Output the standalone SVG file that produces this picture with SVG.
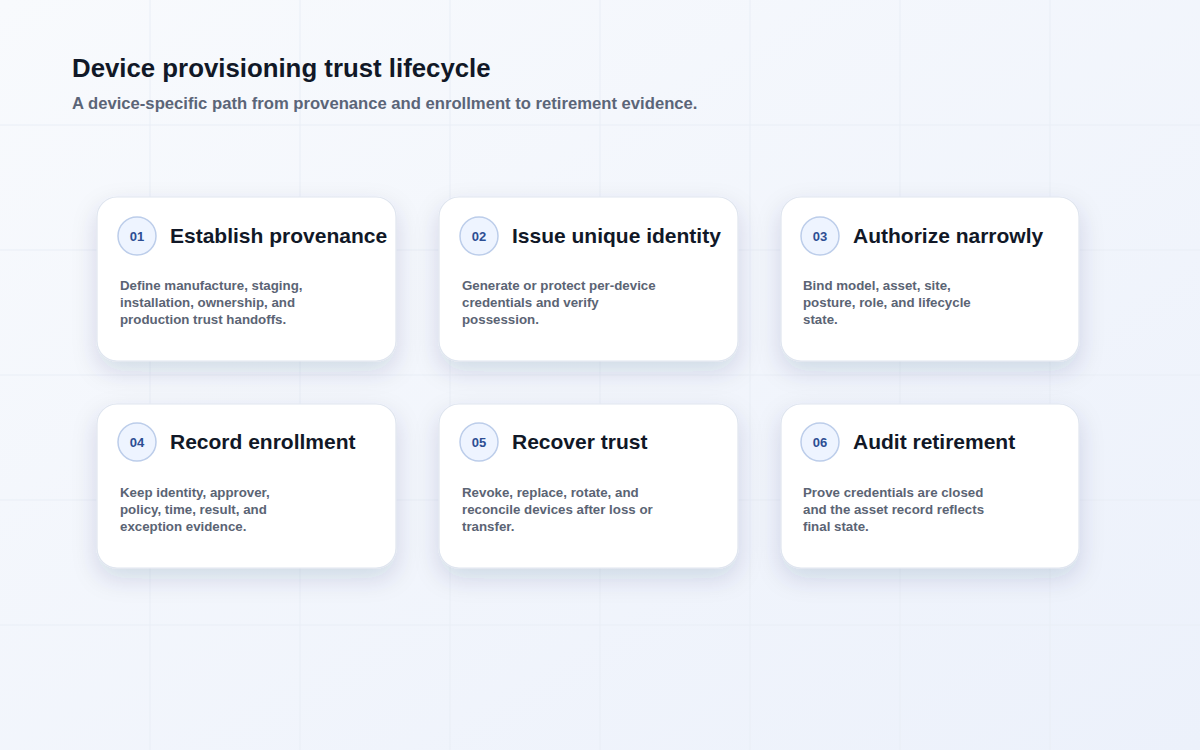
<svg xmlns="http://www.w3.org/2000/svg" width="1200" height="750" viewBox="0 0 1200 750">
  <defs>
    <linearGradient id="bg" x1="0" y1="0" x2="1" y2="1">
      <stop offset="0" stop-color="#f8fafd"/>
      <stop offset="1" stop-color="#ecf1fb"/>
    </linearGradient>
    <filter id="shadow" x="-25%" y="-25%" width="150%" height="170%">
      <feDropShadow dx="0" dy="10" stdDeviation="12" flood-color="#1f2d5c" flood-opacity="0.14"/>
    </filter>
    <style>
      .grid line { stroke: #e9eef6; stroke-width: 1; }
      .card { fill: #ffffff; stroke: #dfe5ef; stroke-width: 1.2; filter: url(#shadow); }
      .badge { fill: #eef4ff; stroke: #bccdea; stroke-width: 1.5; }
      .num { font-family: "Liberation Sans", Arial, sans-serif; font-weight: 700; font-size: 13px; fill: #2d4e93; text-anchor: middle; }
      .ttl { font-family: "Liberation Sans", Arial, sans-serif; font-weight: 700; font-size: 21px; fill: #111827; }
      .body { font-family: "Liberation Sans", Arial, sans-serif; font-weight: 700; font-size: 13.3px; fill: #5b6474; }
      .h1 { font-family: "Liberation Sans", Arial, sans-serif; font-weight: 700; font-size: 25.8px; fill: #111827; }
      .h2 { font-family: "Liberation Sans", Arial, sans-serif; font-weight: 700; font-size: 16.65px; fill: #5b6578; }
    </style>
  </defs>
  <rect width="1200" height="750" fill="url(#bg)"/>
  <g class="grid">
    <line x1="150" y1="0" x2="150" y2="750"/>
    <line x1="300" y1="0" x2="300" y2="750"/>
    <line x1="450" y1="0" x2="450" y2="750"/>
    <line x1="600" y1="0" x2="600" y2="750"/>
    <line x1="750" y1="0" x2="750" y2="750"/>
    <line x1="900" y1="0" x2="900" y2="750"/>
    <line x1="1050" y1="0" x2="1050" y2="750"/>
    <line x1="0" y1="125" x2="1200" y2="125"/>
    <line x1="0" y1="250" x2="1200" y2="250"/>
    <line x1="0" y1="375" x2="1200" y2="375"/>
    <line x1="0" y1="500" x2="1200" y2="500"/>
    <line x1="0" y1="625" x2="1200" y2="625"/>
  </g>
  <g id="header">
    <text class="h1" x="72" y="77">Device provisioning trust lifecycle</text>
    <text class="h2" x="72" y="109">A device-specific path from provenance and enrollment to retirement evidence.</text>
  </g>
  <g id="connectors"></g>
  <g id="step01">
    <rect class="card" x="97" y="197" width="299" height="164" rx="20"/>
    <circle class="badge" cx="137" cy="236" r="19"/>
    <text class="num" x="137" y="241">01</text>
    <text class="ttl" x="170" y="243">Establish provenance</text>
    <text class="body" x="120" y="290">Define manufacture, staging,</text>
    <text class="body" x="120" y="307">installation, ownership, and</text>
    <text class="body" x="120" y="324">production trust handoffs.</text>
  </g>
  <g id="step02">
    <rect class="card" x="439" y="197" width="299" height="164" rx="20"/>
    <circle class="badge" cx="479" cy="236" r="19"/>
    <text class="num" x="479" y="241">02</text>
    <text class="ttl" x="512" y="243">Issue unique identity</text>
    <text class="body" x="462" y="290">Generate or protect per-device</text>
    <text class="body" x="462" y="307">credentials and verify</text>
    <text class="body" x="462" y="324">possession.</text>
  </g>
  <g id="step03">
    <rect class="card" x="781" y="197" width="298" height="164" rx="20"/>
    <circle class="badge" cx="820" cy="236" r="19"/>
    <text class="num" x="820" y="241">03</text>
    <text class="ttl" x="853" y="243">Authorize narrowly</text>
    <text class="body" x="803" y="290">Bind model, asset, site,</text>
    <text class="body" x="803" y="307">posture, role, and lifecycle</text>
    <text class="body" x="803" y="324">state.</text>
  </g>
  <g id="step04">
    <rect class="card" x="97" y="404" width="299" height="164" rx="20"/>
    <circle class="badge" cx="137" cy="442" r="19"/>
    <text class="num" x="137" y="447">04</text>
    <text class="ttl" x="170" y="449">Record enrollment</text>
    <text class="body" x="120" y="497">Keep identity, approver,</text>
    <text class="body" x="120" y="514">policy, time, result, and</text>
    <text class="body" x="120" y="531">exception evidence.</text>
  </g>
  <g id="step05">
    <rect class="card" x="439" y="404" width="299" height="164" rx="20"/>
    <circle class="badge" cx="479" cy="442" r="19"/>
    <text class="num" x="479" y="447">05</text>
    <text class="ttl" x="512" y="449">Recover trust</text>
    <text class="body" x="462" y="497">Revoke, replace, rotate, and</text>
    <text class="body" x="462" y="514">reconcile devices after loss or</text>
    <text class="body" x="462" y="531">transfer.</text>
  </g>
  <g id="step06">
    <rect class="card" x="781" y="404" width="298" height="164" rx="20"/>
    <circle class="badge" cx="820" cy="442" r="19"/>
    <text class="num" x="820" y="447">06</text>
    <text class="ttl" x="853" y="449">Audit retirement</text>
    <text class="body" x="803" y="497">Prove credentials are closed</text>
    <text class="body" x="803" y="514">and the asset record reflects</text>
    <text class="body" x="803" y="531">final state.</text>
  </g>
</svg>
